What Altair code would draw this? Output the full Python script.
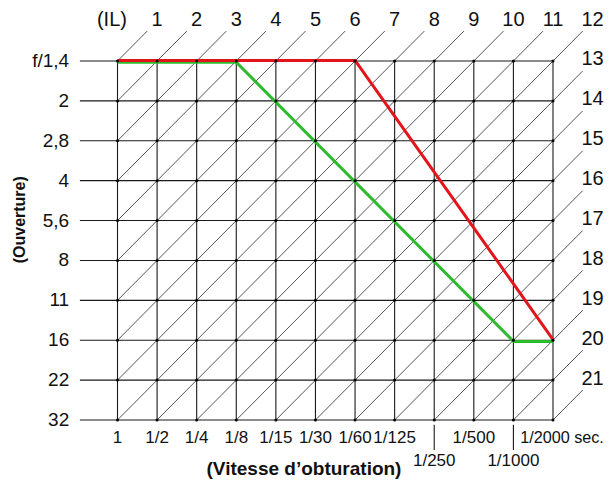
import altair as alt
import pandas as pd

# ---- data ----
shutter_labels = ["1", "1/2", "1/4", "1/8", "1/15", "1/30", "1/60", "1/125",
                  "1/250", "1/500", "1/1000", "1/2000"]
aperture_labels = ["f/1,4", "2", "2,8", "4", "5,6", "8", "11", "16", "22", "32"]
ev_labels = list(range(1, 22))          # IL (exposure values) 1..21
upper_speed_labels = ["1", "1/2", "1/4", "1/8", "1/15", "1/30", "1/60", "1/125", "1/500"]
lower_speed_labels = ["1/250", "1/1000"]
last_speed_label = "1/2000"
separator_speeds = ["1/250", "1/1000"]

red_shutter = ["1", "1/60", "1/2000"]
red_aperture = ["f/1,4", "f/1,4", "16"]
green_shutter = ["1", "1/8", "1/1000", "1/2000"]
green_aperture = ["f/1,4", "f/1,4", "16", "16"]

FONT = "Liberation Sans"
si = {s: i for i, s in enumerate(shutter_labels)}
ai = {a: i for i, a in enumerate(aperture_labels)}
nc, nr = len(shutter_labels), len(aperture_labels)
cmax, rmax = nc - 1, nr - 1

xs = alt.Scale(domain=[0, cmax], range=[109.5, 545], nice=False, zero=False)
ys = alt.Scale(domain=[0, rmax], range=[53, 412], nice=False, zero=False)


def X(f="x"):
    return alt.X(f"{f}:Q", scale=xs, axis=None)


def Y(f="y"):
    return alt.Y(f"{f}:Q", scale=ys, axis=None)


# grid lines
hgrid = pd.DataFrame({"x": [-0.95] * nr, "x2": [cmax] * nr,
                      "y": list(range(nr)), "y2": list(range(nr))})
vgrid = pd.DataFrame({"x": list(range(nc)), "x2": list(range(nc)),
                      "y": [0] * nc, "y2": [rmax] * nc})

# EV diagonals
rows = []
for k in ev_labels:
    s = k - 1
    c0 = max(0, s - rmax)
    r0 = s - c0
    r1 = max(0, s - cmax)
    c1 = s - r1
    rows.append({"x": c0, "y": r0, "x2": c1 + 0.75, "y2": r1 - 0.75,
                 "lx": c1 + 1.0, "ly": r1 - 1.04, "label": str(k)})
diag = pd.DataFrame(rows)

dots = pd.DataFrame([{"x": c, "y": r} for c in range(nc) for r in range(nr)])

red = pd.DataFrame({"x": [si[s] for s in red_shutter],
                    "y": [ai[a] for a in red_aperture],
                    "i": list(range(len(red_shutter)))})
green = pd.DataFrame({"x": [si[s] for s in green_shutter],
                      "y": [ai[a] for a in green_aperture],
                      "i": list(range(len(green_shutter)))})

ylab = pd.DataFrame({"x": [-1.22] * nr, "y": list(range(nr)), "t": aperture_labels})
xlab1 = pd.DataFrame({"x": [si[s] for s in upper_speed_labels],
                      "y": [9.46] * len(upper_speed_labels), "t": upper_speed_labels})
xlab2 = pd.DataFrame({"x": [si[s] for s in lower_speed_labels],
                      "y": [10.02] * len(lower_speed_labels), "t": lower_speed_labels})
xlab3 = pd.DataFrame({"x": [si[last_speed_label] - 0.83], "y": [9.46],
                      "t": [last_speed_label + " sec."]})
seps = pd.DataFrame({"x": [si[s] for s in separator_speeds],
                     "x2": [si[s] for s in separator_speeds],
                     "y": [9.12] * 2, "y2": [9.75] * 2})
il = pd.DataFrame({"x": [-0.14], "y": [-1.04], "t": ["(IL)"]})
xtitle = pd.DataFrame({"x": [4.71], "y": [10.37], "t": ["(Vitesse d\u2019obturation)"]})
ytitle = pd.DataFrame({"x": [-2.46], "y": [3.98], "t": ["(Ouverture)"]})

grid_color = "#1a1a1a"

l_h = alt.Chart(hgrid).mark_rule(color=grid_color, strokeWidth=1.1).encode(
    x=X(), x2="x2:Q", y=Y(), y2="y2:Q")
l_v = alt.Chart(vgrid).mark_rule(color=grid_color, strokeWidth=1.1).encode(
    x=X(), x2="x2:Q", y=Y(), y2="y2:Q")
l_d = alt.Chart(diag).mark_rule(color="#2a2a2a", strokeWidth=0.8).encode(
    x=X(), x2="x2:Q", y=Y(), y2="y2:Q")
l_sep = alt.Chart(seps).mark_rule(color=grid_color, strokeWidth=1.1).encode(
    x=X(), x2="x2:Q", y=Y(), y2="y2:Q")
l_dots = alt.Chart(dots).mark_circle(color="#000", size=9, opacity=1).encode(x=X(), y=Y())
l_green = alt.Chart(green).mark_line(color="#2dbb2d", strokeWidth=3, yOffset=1.2,
                                     strokeJoin="round").encode(x=X(), y=Y(), order="i:Q")
l_red = alt.Chart(red).mark_line(color="#e3151b", strokeWidth=3, yOffset=-0.6,
                                 strokeJoin="round").encode(x=X(), y=Y(), order="i:Q")

l_ylab = alt.Chart(ylab).mark_text(font=FONT, fontSize=19, align="right", baseline="middle",
                                   color="#111").encode(x=X(), y=Y(), text="t:N")
l_xlab1 = alt.Chart(xlab1).mark_text(font=FONT, fontSize=17, align="center", baseline="middle",
                                     color="#111").encode(x=X(), y=Y(), text="t:N")
l_xlab2 = alt.Chart(xlab2).mark_text(font=FONT, fontSize=17, align="center", baseline="middle",
                                     color="#111").encode(x=X(), y=Y(), text="t:N")
l_xlab3 = alt.Chart(xlab3).mark_text(font=FONT, fontSize=16.2, align="left", baseline="middle",
                                     color="#111").encode(x=X(), y=Y(), text="t:N")
l_ev = alt.Chart(diag).mark_text(font=FONT, fontSize=20, align="center", baseline="middle",
                                 color="#111").encode(x=X("lx"), y=Y("ly"), text="label:N")
l_il = alt.Chart(il).mark_text(font=FONT, fontSize=20, align="center", baseline="middle",
                               color="#111").encode(x=X(), y=Y(), text="t:N")
l_xt = alt.Chart(xtitle).mark_text(font=FONT, fontSize=19, fontWeight="bold", align="center",
                                   baseline="alphabetic", color="#111").encode(
    x=X(), y=Y(), text="t:N")
l_yt = alt.Chart(ytitle).mark_text(font=FONT, fontSize=16, fontWeight="bold", align="center",
                                   baseline="middle", angle=270, color="#111").encode(
    x=X(), y=Y(), text="t:N")

chart = alt.layer(
    l_h, l_v, l_d, l_sep, l_green, l_red, l_dots,
    l_ylab, l_xlab1, l_xlab2, l_xlab3, l_ev, l_il, l_xt, l_yt
).properties(
    width=597, height=471, autosize=alt.AutoSizeParams(type="none"), padding=0,
    background="white"
).configure_view(stroke=None)

chart.save("out.html", embed_options={"renderer": "svg", "actions": False})
